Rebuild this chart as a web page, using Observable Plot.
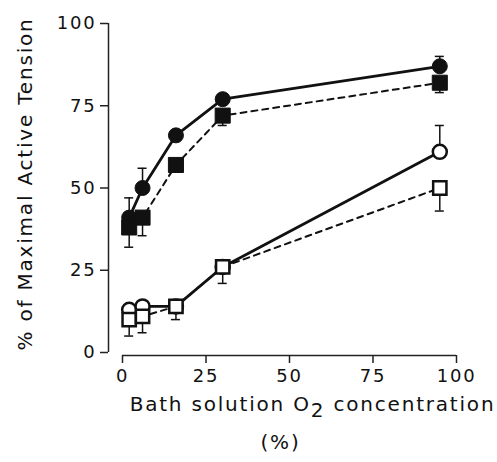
<!DOCTYPE html>
<html>
<head>
<meta charset="utf-8">
<script src="https://cdn.jsdelivr.net/npm/d3@7"></script>
<script src="https://cdn.jsdelivr.net/npm/@observablehq/plot@0.6"></script>
<style>
  html, body { margin: 0; padding: 0; background: #fff; }
  svg { display: block; }
</style>
</head>
<body>
<div id="chart"></div>
<script>
// O2 concentrations (%)
const o2 = [2, 6, 16, 30, 95];
// Series means (% of maximal active tension)
const filledCircle = [41, 50, 66, 77, 87];
const filledSquare = [38, 41, 57, 72, 82];
const openCircle   = [13, 14, 14, 26, 61];
const openSquare   = [10, 11, 14, 26, 50];
// Error bars (SEM) — circles drawn upward, squares downward
const filledCircleErr = [6, 6, 1, 1, 3];
const filledSquareErr = [6, 5.5, 1, 3, 3];
const openCircleErr   = [0, 0, 0, 0, 8];
const openSquareErr   = [5, 5, 4, 5, 7];
const ticks = [0, 25, 50, 75, 100];

const mk = (ys, errs, dir) => o2.map((x, i) => ({x, y: ys[i], e: ys[i] + dir * errs[i]}));
const fc = mk(filledCircle, filledCircleErr, 1);
const fs = mk(filledSquare, filledSquareErr, -1);
const oc = mk(openCircle, openCircleErr, 1);
const os = mk(openSquare, openSquareErr, -1);

const font = "DejaVu Sans, Verdana, sans-serif";
const capHalf = 1.35; // half-width of error-bar caps in x units

function errMarks(data) {
  const d = data.filter(p => p.e !== p.y);
  return [
    Plot.ruleX(d, {x: "x", y1: "y", y2: "e", stroke: "#111", strokeWidth: 1.5}),
    Plot.ruleY(d, {y: "e", x1: p => p.x - capHalf, x2: p => p.x + capHalf, stroke: "#111", strokeWidth: 1.5})
  ];
}

const chart = Plot.plot({
  width: 497,
  height: 462,
  marginLeft: 122,
  marginRight: 41,
  marginTop: 23,
  marginBottom: 110,
  x: {type: "linear", domain: [0, 100], axis: null},
  y: {type: "linear", domain: [0, 100], axis: null},
  style: {fontFamily: font, color: "#111", background: "#fff"},
  marks: [
    // axes
    Plot.ruleX([0], {y1: 0, y2: 100, dx: -14, stroke: "#222", strokeWidth: 1.5}),
    Plot.axisY({ticks, tickSize: 8, dx: -14, tickPadding: 4, fontSize: 18, anchor: "left", label: null, stroke: "#222", strokeWidth: 1.5, strokeOpacity: 1, style: "letter-spacing:1.5px"}),
    Plot.ruleY([0], {x1: 0, x2: 100, dy: 3, stroke: "#222", strokeWidth: 1.5}),
    Plot.axisX({ticks, tickSize: 8, dy: 3, tickPadding: 6, fontSize: 18, anchor: "bottom", label: null, stroke: "#222", strokeWidth: 1.5, strokeOpacity: 1}),
    // lines
    Plot.line(fs, {x: "x", y: "y", stroke: "#111", strokeWidth: 2, strokeDasharray: "6,5"}),
    Plot.line(os, {x: "x", y: "y", stroke: "#111", strokeWidth: 2, strokeDasharray: "6,5"}),
    Plot.line(fc, {x: "x", y: "y", stroke: "#111", strokeWidth: 2.8}),
    Plot.line(oc, {x: "x", y: "y", stroke: "#111", strokeWidth: 2.8}),
    // error bars
    ...errMarks(fc), ...errMarks(fs), ...errMarks(oc), ...errMarks(os),
    // symbols
    Plot.dot(oc, {x: "x", y: "y", r: 7, fill: "#fff", stroke: "#111", strokeWidth: 2.5}),
    Plot.dot(os, {x: "x", y: "y", r: 7.5, symbol: "square", fill: "#fff", stroke: "#111", strokeWidth: 2.5}),
    Plot.dot(fc, {x: "x", y: "y", r: 7.5, fill: "#111", stroke: "#111", strokeWidth: 1}),
    Plot.dot(fs, {x: "x", y: "y", r: 8.5, symbol: "square", fill: "#111", stroke: "#111", strokeWidth: 1}),
    // axis titles
    Plot.text(["% of Maximal Active Tension"], {frameAnchor: "left", textAnchor: "middle", lineAnchor: "middle", rotate: -90, dx: -97, dy: -4, fontSize: 20, fill: "#111", className: "ylab"}),
    Plot.text(["Bath solution O2 concentration"], {frameAnchor: "bottom", textAnchor: "middle", lineAnchor: "middle", dx: 23, dy: 52, fontSize: 20, fill: "#111", className: "xlab"}),
    Plot.text(["(%)"], {frameAnchor: "bottom", textAnchor: "middle", lineAnchor: "middle", dx: -9, dy: 90, fontSize: 20, fill: "#111", className: "xlab2"})
  ]
});

// letter spacing for the wide original type
d3.select(chart).selectAll("g.ylab text, g.xlab text, g.xlab2 text").style("letter-spacing", "1.8px");
d3.select(chart).selectAll("g[aria-label='x-axis tick label'] text, g[aria-label='y-axis tick label'] text").style("letter-spacing", "1.8px");

// render the subscript in "O2"
d3.select(chart).selectAll("g.xlab text").each(function() {
  const t = d3.select(this);
  t.text(null);
  t.append("tspan").text("Bath solution O");
  t.append("tspan").attr("dy", "0.3em").text("2");
  t.append("tspan").attr("dy", "-0.3em").text(" concentration");
});

document.getElementById("chart").appendChild(chart);
</script>
</body>
</html>
